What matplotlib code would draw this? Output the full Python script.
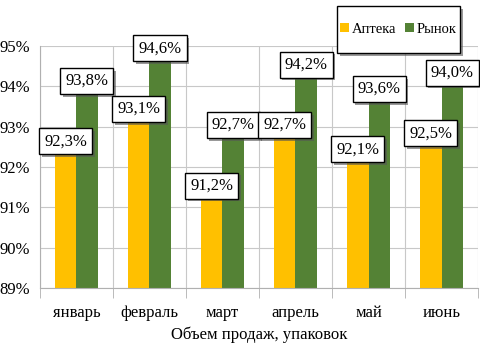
import numpy as np
import matplotlib
matplotlib.use("Agg")
from matplotlib import pyplot as plt
import matplotlib.patheffects as pe
from matplotlib.patches import Rectangle
from matplotlib.ticker import FuncFormatter

months = ['январь', 'февраль', 'март', 'апрель', 'май', 'июнь']
apteka = [92.3, 93.1, 91.2, 92.7, 92.1, 92.5]
rynok = [93.8, 94.6, 92.7, 94.2, 93.6, 94.0]
series_names = ['Аптека', 'Рынок']
colors = ['#FFC000', '#548235']

plt.rcParams['font.family'] = ['Liberation Serif', 'DejaVu Serif']

fig = plt.figure(figsize=(4.8, 3.48), dpi=100)
ax = fig.add_axes([0.083, 0.172, 0.913, 0.696])

x = np.arange(len(months))
w = 0.29
ax.bar(x - w / 2, apteka, w, bottom=0, color=colors[0], label=series_names[0], zorder=2)
ax.bar(x + w / 2, rynok, w, bottom=0, color=colors[1], label=series_names[1], zorder=2)

ax.set_ylim(89, 95)
ax.set_xlim(-0.5, len(months) - 0.5)
ax.set_yticks(np.arange(89, 95.5, 1))
ax.yaxis.set_major_formatter(FuncFormatter(lambda v, p: '{:.0f}%'.format(v)))
ax.grid(axis='y', color='#c8c8c8', lw=0.8, zorder=0)

# category separators
ax.set_xticks(x)
ax.set_xticklabels(months, fontsize=12)
ax.set_xticks(np.arange(-0.5, len(months)), minor=True)
ax.grid(axis='x', which='minor', color='#c8c8c8', lw=0.8, zorder=0)
ax.tick_params(axis='x', which='major', length=0, pad=12)
ax.tick_params(axis='x', which='minor', length=7, color='#b0b0b0')
ax.tick_params(axis='y', length=0, labelsize=12, pad=7)

for s in ['top', 'right']:
    ax.spines[s].set_visible(False)
for s in ['left', 'bottom']:
    ax.spines[s].set_color('#b0b0b0')
    ax.spines[s].set_linewidth(0.8)

ax.set_xlabel('Объем продаж, упаковок', fontsize=12, labelpad=4)

shadow = [pe.SimplePatchShadow(offset=(2, -2), shadow_rgbFace='#555555', alpha=0.6), pe.Normal()]

def label(xp, val):
    t = ax.text(xp, val + 0.14, '{:.1f}%'.format(val).replace('.', ','),
                ha='center', va='bottom', fontsize=12, zorder=5,
                bbox=dict(boxstyle='square,pad=0.3', fc='white', ec='black', lw=1))
    t.get_bbox_patch().set_path_effects(shadow)

for i in range(len(months)):
    label(x[i] - w / 2, apteka[i])
    label(x[i] + w / 2, rynok[i])

# legend frame drawn separately (tall box, tight sides)
frame = Rectangle((0.702, 0.848), 0.256, 0.135, transform=fig.transFigure,
                  fc='white', ec='black', lw=1, zorder=6, clip_on=False)
frame.set_path_effects(shadow)
ax.add_artist(frame)

leg = ax.legend(loc='center', bbox_to_anchor=(0.830, 0.9155), bbox_transform=fig.transFigure,
                ncol=2, fontsize=10.5, frameon=False, handlelength=0.6, handleheight=0.6,
                handletextpad=0.2, columnspacing=0.6, borderpad=0.2, borderaxespad=0)
leg.set_zorder(7)

fig.savefig('out.png', dpi=100)
